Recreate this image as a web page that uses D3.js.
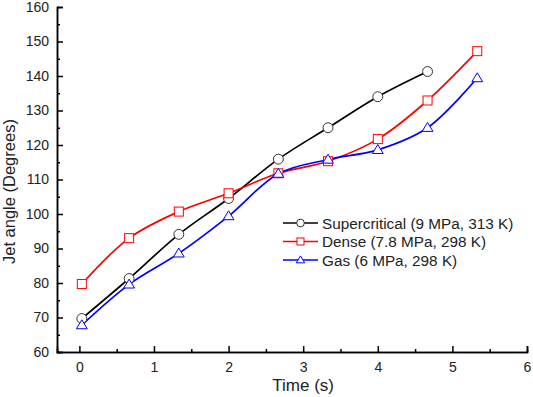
<!DOCTYPE html>
<html>
<head>
<meta charset="utf-8">
<script src="https://cdn.jsdelivr.net/npm/d3@7"></script>
<style>
  body { margin: 0; background: #fff; }
  svg { font-family: Arial, "Liberation Sans", sans-serif; }
</style>
</head>
<body>
<svg id="chart" width="533" height="397"></svg>
<script>
// data
const times = [0.033, 0.667, 1.333, 2, 2.667, 3.333, 4, 4.667, 5.333];
const superVals = [69.7, 81.3, 94.1, 104.5, 115.9, 125, 134, 141.3];
const denseVals = [79.7, 93, 100.7, 106, 111.8, 115.3, 121.7, 132.9, 147.2];
const gasVals = [67.8, 79.6, 88.6, 99.4, 111.7, 115.8, 118.6, 125, 139.4];
const xTicks = [0, 1, 2, 3, 4, 5, 6];
const yTicks = [60, 70, 80, 90, 100, 110, 120, 130, 140, 150, 160];
const seriesNames = ["Supercritical (9 MPa, 313 K)", "Dense (7.8 MPa, 298 K)", "Gas (6 MPa, 298 K)"];

const series = [
    {name: seriesNames[0], vals: superVals, color: "#000000", mark: "circle"},
    {name: seriesNames[1], vals: denseVals, color: "#ff0000", mark: "square"},
    {name: seriesNames[2], vals: gasVals, color: "#0000ff", mark: "triangle"}
];

let svg = d3.select('#chart'),
    margin = {top: 7, right: 6, bottom: 45, left: 57},
    width = +svg.attr("width"),
    height = +svg.attr("height");

let xScale = d3.scaleLinear()
    .domain([-0.3, 6])
    .range([margin.left, width - margin.right]);

let yScale = d3.scaleLinear()
    .domain([60, 160])
    .range([height - margin.bottom, margin.top]);

// axes, ticks pointing inward
let xAxis = d3.axisBottom(xScale).tickValues(xTicks).tickSize(-6).tickPadding(10).tickFormat(d3.format("d"));
let xMinor = d3.axisBottom(xScale).tickValues(d3.range(0.5, 6, 1)).tickSize(-3).tickFormat("");
let yAxis = d3.axisLeft(yScale).tickValues(yTicks).tickSize(-6).tickPadding(8);
let yMinor = d3.axisLeft(yScale).tickValues(d3.range(65, 160, 10)).tickSize(-3).tickFormat("");

function styleAxis(g){
    g.selectAll("path, line").attr("stroke", "#000").attr("stroke-width", 1.5);
    g.selectAll("text").attr("font-size", 14).attr("fill", "#222");
}

svg.append("g")
    .attr("transform", `translate(0,${height - margin.bottom})`)
    .call(xMinor).call(styleAxis);
svg.append("g")
    .attr("transform", `translate(0,${height - margin.bottom})`)
    .call(xAxis).call(styleAxis);
svg.append("g")
    .attr("transform", `translate(${margin.left},0)`)
    .call(yMinor).call(styleAxis);
svg.append("g")
    .attr("transform", `translate(${margin.left},0)`)
    .call(yAxis).call(styleAxis);

svg.append("text")
    .attr("x", xScale(3))
    .attr("y", 391)
    .attr("text-anchor", "middle")
    .attr("font-size", 17)
    .attr("fill", "#222")
    .text("Time (s)");

svg.append("text")
    .attr("transform", `translate(15,${yScale(106.5)}) rotate(-90)`)
    .attr("text-anchor", "middle")
    .attr("font-size", 16.5)
    .attr("fill", "#222")
    .text("Jet angle (Degrees)");

function drawMarker(g, kind, x, y, color, s){
    if (kind === "circle") {
        g.append("circle").attr("cx", x).attr("cy", y).attr("r", s * 0.55)
            .attr("fill", "#fff").attr("stroke", color).attr("stroke-width", 1);
    } else if (kind === "square") {
        g.append("rect").attr("x", x - s / 2).attr("y", y - s / 2).attr("width", s).attr("height", s)
            .attr("fill", "#fff").attr("stroke", color).attr("stroke-width", 1);
    } else {
        let h = s * 0.9;
        g.append("path")
            .attr("d", `M${x},${y - h * 0.65}L${x + s * 0.6},${y + h * 0.45}L${x - s * 0.6},${y + h * 0.45}Z`)
            .attr("fill", "#fff").attr("stroke", color).attr("stroke-width", 1);
    }
}

let dline = d3.line()
    .x(d => xScale(d[0]))
    .y(d => yScale(d[1]))
    .curve(d3.curveCatmullRom.alpha(0.5));

series.forEach(function(s){
    let pts = s.vals.map((v, i) => [times[i], v]);
    svg.append("path")
        .datum(pts)
        .attr("fill", "none")
        .attr("stroke", s.color)
        .attr("stroke-width", 1.7)
        .attr("d", dline);
});

series.forEach(function(s){
    let g = svg.append("g");
    s.vals.forEach(function(v, i){
        drawMarker(g, s.mark, xScale(times[i]), yScale(v), s.mark === "circle" ? "#333" : s.color, 9);
    });
});

// legend
let legend = svg.append("g").attr("transform", "translate(283,223)");
series.forEach(function(s, i){
    let y = i * 18.5;
    legend.append("line")
        .attr("x1", 0).attr("x2", 35).attr("y1", y).attr("y2", y)
        .attr("stroke", s.color).attr("stroke-width", 1.7);
    drawMarker(legend, s.mark, 17.5, y, s.mark === "circle" ? "#333" : s.color, 7);
    legend.append("text")
        .attr("x", 39).attr("y", y + 5.5)
        .attr("font-size", 15.3)
        .attr("fill", "#222")
        .text(s.name);
});
</script>
</body>
</html>
